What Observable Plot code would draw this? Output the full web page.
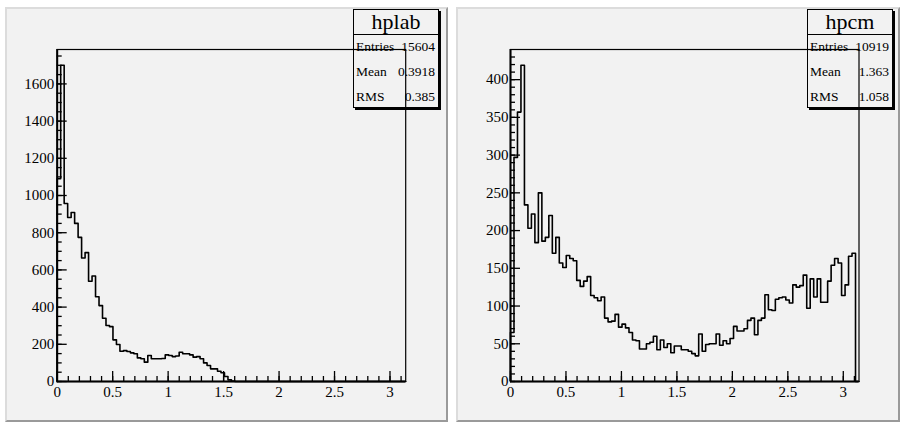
<!DOCTYPE html>
<html>
<head>
<meta charset="utf-8">
<script src="https://cdn.jsdelivr.net/npm/d3@7"></script>
<script src="https://cdn.jsdelivr.net/npm/@observablehq/plot@0.6"></script>
<style>
  body { margin: 0; width: 902px; height: 425px; position: relative; overflow: hidden; background: #fff;
         font-family: "Liberation Serif", "Times New Roman", serif; }
  .pad { position: absolute; top: 7px; height: 411px; background: #f2f2f2; border-style: solid; border-width: 2px;
         border-color: #dcdcdc #9a9a9a #9a9a9a #dcdcdc; }
  .stats { position: absolute; top: 9px; width: 86px; height: 99px; background: #f2f2f2; border: 1px solid #000;
           box-shadow: 2px 2px 0 #000; box-sizing: border-box; color: #000; }
  .stats .title { position: absolute; left: 0; right: 0; top: 0; height: 24px; border-bottom: 1px solid #000;
                  text-align: center; font-size: 22px; line-height: 24px; }
  .stats .row { position: absolute; left: 2px; right: 3px; height: 16px; font-size: 13.5px; line-height: 16px; }
  .stats .row .v { position: absolute; right: 0; top: 0; }
  .chart { position: absolute; top: 0; }
  .chart svg, .chart svg text { font-family: "Liberation Serif", "Times New Roman", serif !important; font-size: 15px !important; fill: #000; }
</style>
</head>
<body>
<div class="pad" style="left:5px;width:439px"></div>
<div class="pad" style="left:456px;width:440px"></div>
<div id="stats-left" class="stats" style="left:353px"></div>
<div id="stats-right" class="stats" style="left:807px"></div>
<div id="chart-left" class="chart" style="left:0px"></div>
<div id="chart-right" class="chart" style="left:451px"></div>
<script>
// Bin contents, 100 equal bins from 0 to pi
const hplabCounts = [
  1090, 1700, 957, 882, 909, 850, 775, 664, 693, 539,
  567, 456, 408, 340, 301, 295, 224, 199, 163, 166,
  161, 154, 149, 127, 122, 104, 140, 122, 122, 122,
  124, 143, 140, 134, 137, 157, 149, 149, 143, 131,
  134, 122, 100, 86, 68, 68, 55, 47, 27, 9,
  3, 0, 0, 0, 0, 0, 0, 0, 0, 0,
  0, 0, 0, 0, 0, 0, 0, 0, 0, 0,
  0, 0, 0, 0, 0, 0, 0, 0, 0, 0,
  0, 0, 0, 0, 0, 0, 0, 0, 0, 0,
  0, 0, 0, 0, 0, 0, 0, 0, 0, 0
];
const hpcmCounts = [
  65, 297, 357, 419, 234, 203, 222, 184, 250, 186,
  191, 220, 170, 191, 157, 151, 167, 163, 160, 134,
  126, 133, 139, 114, 111, 107, 112, 84, 79, 80,
  89, 72, 76, 71, 65, 55, 54, 43, 43, 50,
  52, 60, 42, 55, 45, 50, 38, 47, 47, 42,
  42, 40, 37, 34, 63, 40, 49, 50, 50, 63,
  48, 54, 50, 57, 73, 67, 67, 70, 81, 84,
  62, 81, 84, 115, 95, 94, 109, 111, 112, 108,
  104, 128, 125, 127, 141, 97, 136, 112, 136, 105,
  105, 133, 154, 163, 157, 114, 128, 166, 170, 0
];

// Statistics box contents
const statNames = ["Entries", "Mean", "RMS"];
const hplabStats = ["15604", "0.3918", "0.385"];
const hpcmStats = ["10919", "1.363", "1.058"];

// Axis ticks
const xMajor = [0, 0.5, 1, 1.5, 2, 2.5, 3];
const xMinor = [0, 0.1, 0.2, 0.3, 0.4, 0.5, 0.6, 0.7, 0.8, 0.9, 1, 1.1, 1.2, 1.3, 1.4, 1.5, 1.6, 1.7, 1.8, 1.9,
                2, 2.1, 2.2, 2.3, 2.4, 2.5, 2.6, 2.7, 2.8, 2.9, 3, 3.1];
const hplabYMajor = [0, 200, 400, 600, 800, 1000, 1200, 1400, 1600];
const hplabYMinorStep = 50;
const hpcmYMajor = [0, 50, 100, 150, 200, 250, 300, 350, 400];
const hpcmYMinorStep = 10;

function statBox(el, title, values) {
  const t = document.createElement("div");
  t.className = "title";
  t.textContent = title;
  el.appendChild(t);
  statNames.forEach((name, i) => {
    const r = document.createElement("div");
    r.className = "row";
    r.style.top = (29 + 25 * i) + "px";
    r.innerHTML = `<span>${name}</span><span class="v">${values[i]}</span>`;
    el.appendChild(r);
  });
}

function histogram(counts, yMajor, yMinorStep, marginLeft, labelPad) {
  const n = counts.length;
  const w = Math.PI / n;
  // outline of the histogram: rise from the baseline, one step per bin, back down at pi
  const pts = [{x: 0, y: 0}, ...counts.map((c, i) => ({x: i * w, y: c})), {x: Math.PI, y: 0}];
  const yMax = d3.max(counts) * 1.05;
  const yMinor = d3.range(0, yMax, yMinorStep);
  const fmt = d => String(d);
  return Plot.plot({
    width: 451,
    height: 425,
    marginLeft,
    marginRight: 451 - marginLeft - 348.5,
    marginTop: 49,
    marginBottom: 44,
    x: {domain: [0, Math.PI]},
    y: {domain: [0, yMax]},
    style: {background: "transparent", color: "#000", overflow: "visible"},
    marks: [
      Plot.axisX(xMinor, {tickSize: -5, tickFormat: () => "", label: null, strokeWidth: 1.3}),
      Plot.axisX(xMajor, {tickSize: -10, tickFormat: () => "", label: null, strokeWidth: 1.3}),
      Plot.axisX(xMajor, {tickSize: 0, tickPadding: 5, tickFormat: fmt, label: null}),
      Plot.axisY(yMinor, {tickSize: -5, tickFormat: () => "", label: null, strokeWidth: 1.3}),
      Plot.axisY(yMajor, {tickSize: -10, tickFormat: () => "", label: null, strokeWidth: 1.3}),
      Plot.axisY(yMajor, {tickSize: 0, tickPadding: labelPad, tickFormat: fmt, label: null}),
      Plot.frame({stroke: "#000", strokeWidth: 1.2}),
      Plot.ruleX([0], {stroke: "#000", strokeWidth: 2}),
      Plot.ruleY([0], {stroke: "#000", strokeWidth: 2}),
      Plot.line(pts, {x: "x", y: "y", curve: "step-after", stroke: "#000", strokeWidth: 1.6})
    ]
  });
}

statBox(document.getElementById("stats-left"), "hplab", hplabStats);
statBox(document.getElementById("stats-right"), "hpcm", hpcmStats);
document.getElementById("chart-left").appendChild(histogram(hplabCounts, hplabYMajor, hplabYMinorStep, 56.7, 3));
document.getElementById("chart-right").appendChild(histogram(hpcmCounts, hpcmYMajor, hpcmYMinorStep, 59, 2));
</script>
</body>
</html>
